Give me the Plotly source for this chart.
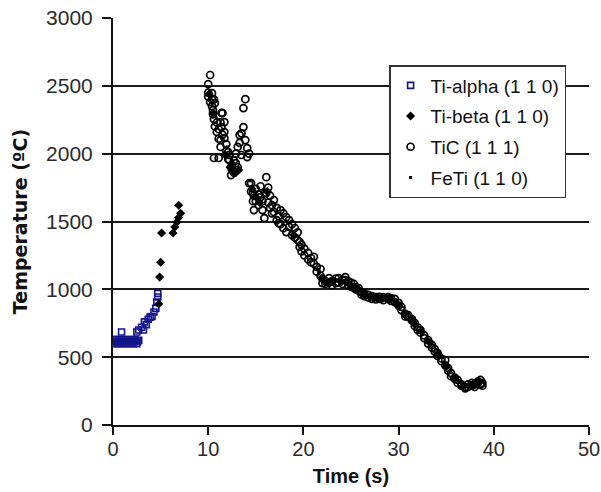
import plotly.graph_objects as go

# ---- data ----
alpha_t = [0.0, 0.2, 0.4, 0.6, 0.8, 1.0, 1.2, 1.4, 1.6, 1.8, 2.0, 2.2, 2.4, 2.6,
           0.1, 0.5, 0.9, 1.3, 1.7, 2.1, 2.5,
           0.0, 0.3, 0.7, 1.1, 1.5, 1.9, 2.3, 2.7, 0.9,
           2.5, 2.7, 3.0, 3.2, 3.3, 3.5, 3.7, 3.9, 4.1, 4.3, 4.5, 4.6, 4.7, 4.7]
alpha_T = [615, 615, 615, 615, 615, 615, 615, 615, 615, 615, 615, 615, 615, 615,
           600, 600, 600, 600, 600, 600, 600,
           630, 630, 630, 630, 630, 630, 630, 625, 685,
           685, 700, 720, 700, 760, 740, 780, 795, 800, 833, 860, 906, 943, 970]

beta_t = [4.8, 4.9, 5.0, 5.1, 6.3, 6.5, 6.7, 6.9, 7.1, 6.9,
          10.1, 10.5, 11.8, 12.3, 12.6, 12.9, 13.2, 14.6, 15.0, 15.4,
          16.2, 19.0, 21.9, 22.5, 23.2, 24.0, 24.8, 25.6, 26.5, 27.4,
          28.3, 29.0, 29.8, 30.6, 31.5, 32.4, 33.3, 34.2, 35.0, 35.8,
          36.8, 37.8, 38.5]
beta_T = [892, 1090, 1200, 1415, 1415, 1460, 1495, 1530, 1560, 1620,
          2440, 2300, 1990, 1900, 1870, 1860, 1880, 1740, 1680, 1640,
          1720, 1400, 1080, 1050, 1065, 1055, 1040, 1000, 960, 940,
          935, 930, 890, 820, 760, 690, 610, 520, 430, 350,
          290, 300, 320]

tic_t = [10.0, 10.0, 10.0, 10.2, 10.2, 10.4, 10.4, 10.4, 10.5, 10.5,
         10.6, 10.6, 10.6, 10.7, 10.7, 10.9, 10.9, 11.1, 11.1, 11.1,
         11.3, 11.3, 11.3, 11.4, 11.4, 11.5, 11.5, 11.7, 11.7, 11.7,
         11.9, 11.9, 12.1, 12.1, 12.2, 12.2, 12.4, 12.4, 12.5, 12.5,
         12.7, 12.7, 12.9, 12.9, 13.1, 13.1, 13.3, 13.3, 13.5, 13.5,
         13.7, 13.7, 13.9, 13.9, 14.1, 14.1, 14.3, 14.3, 14.5, 14.5,
         14.7, 14.7, 14.8, 14.8, 15.0, 15.0, 15.3, 15.3, 15.5, 15.5,
         15.7, 15.7, 15.9, 15.9, 16.1, 16.1, 16.3, 16.3, 16.5, 16.5,
         16.7, 16.7, 16.9, 16.9, 17.2, 17.2, 17.4, 17.4, 17.6, 17.6,
         17.9, 17.9, 18.2, 18.2, 18.5, 18.5, 18.8, 18.8, 19.1, 19.1,
         19.4, 19.4, 19.6, 19.6, 19.8, 19.8, 20.1, 20.1, 20.5, 20.5,
         20.8, 20.8, 21.1, 21.1, 21.4, 21.4, 21.8, 21.8, 22.0, 22.0,
         22.3, 22.3, 22.7, 22.7, 23.0, 23.0, 23.4, 23.4, 23.7, 23.7,
         24.1, 24.1, 24.4, 24.4, 24.7, 24.7, 25.0, 25.0, 25.3, 25.3,
         25.5, 25.5, 25.8, 25.8, 26.1, 26.1, 26.4, 26.4, 26.8, 26.8,
         27.2, 27.2, 27.6, 27.6, 28.0, 28.0, 28.4, 28.4, 28.9, 28.9,
         29.2, 29.2, 29.6, 29.6, 30.0, 30.0, 30.3, 30.3, 30.7, 30.7,
         31.0, 31.0, 31.4, 31.4, 31.7, 31.7, 32.0, 32.0, 32.3, 32.3,
         32.7, 32.7, 33.1, 33.1, 33.5, 33.5, 33.8, 33.8, 34.1, 34.1,
         34.5, 34.5, 34.9, 34.9, 35.2, 35.2, 35.5, 35.5, 35.9, 35.9,
         36.2, 36.2, 36.6, 36.6, 37.0, 37.0, 37.3, 37.3, 37.7, 37.7,
         38.0, 38.0, 38.3, 38.3, 38.6, 38.6, 38.8, 38.8]
tic_T = [2450, 2420, 2513, 2580, 2380, 2446, 2350, 2400, 2321, 2290,
         1968, 2255, 2400, 2373, 2200, 2230, 2160, 1968, 2180, 2110,
         2100, 2230, 2050, 2196, 2300, 2299, 2140, 2233, 2159, 2115,
         2020, 2070, 2012, 1960, 1953, 1990, 1842, 1901, 1916, 1880,
         1950, 1860, 2000, 1930, 2050, 1900, 2137, 2080, 1990, 2150,
         2336, 2196, 2402, 2100, 2041, 1975, 1783, 2000, 1720, 1783,
         1650, 1709, 1584, 1690, 1650, 1740, 1700, 1620, 1760, 1680,
         1584, 1650, 1525, 1710, 1709, 1827, 1750, 1640, 1690, 1600,
         1620, 1560, 1658, 1570, 1510, 1600, 1488, 1540, 1584, 1480,
         1560, 1450, 1532, 1422, 1510, 1460, 1480, 1400, 1452, 1380,
         1363, 1420, 1312, 1350, 1330, 1280, 1300, 1250, 1268, 1220,
         1231, 1200, 1190, 1240, 1165, 1130, 1100, 1150, 1046, 1080,
         1040, 1060, 1083, 1050, 1060, 1030, 1080, 1045, 1083, 1050,
         1070, 1040, 1068, 1090, 1060, 1030, 1050, 1020, 1040, 1010,
         1017, 1000, 990, 1010, 980, 960, 950, 970, 940, 960,
         950, 930, 943, 925, 945, 930, 940, 920, 943, 930,
         935, 915, 906, 930, 880, 900, 847, 870, 820, 800,
         796, 810, 770, 780, 752, 730, 700, 720, 700, 680,
         660, 640, 626, 600, 590, 570, 560, 540, 530, 510,
         490, 470, 479, 440, 420, 400, 383, 360, 340, 350,
         332, 310, 300, 290, 280, 270, 280, 300, 290, 310,
         300, 280, 310, 320, 332, 300, 310, 290]

feti_t = [12.0, 12.8, 14.4, 21.6, 23.5, 27.8, 33.0, 36.4]
feti_T = [2050, 1850, 1800, 1120, 1070, 940, 630, 320]

fig = go.Figure()
fig.add_trace(go.Scatter(x=alpha_t, y=alpha_T, mode="markers", name="Ti-alpha (1 1 0)",
                         legendgroup="a",
                         marker=dict(symbol="square-open", size=6, color="#14148c",
                                     line=dict(width=1.6, color="#14148c"))))
fig.add_trace(go.Scatter(x=beta_t, y=beta_T, mode="markers", name="Ti-beta (1 1 0)",
                         legendgroup="b",
                         marker=dict(symbol="diamond", size=7, color="black")))
fig.add_trace(go.Scatter(x=tic_t, y=tic_T, mode="markers", name="TiC (1 1 1)",
                         legendgroup="c",
                         marker=dict(symbol="circle-open", size=7, color="black",
                                     line=dict(width=1.7, color="black"))))
fig.add_trace(go.Scatter(x=feti_t, y=feti_T, mode="markers", name="FeTi (1 1 0)",
                         legendgroup="d",
                         marker=dict(symbol="square", size=3, color="black")))

fig.update_layout(
    width=601, height=492,
    margin=dict(l=113, r=12, t=18, b=67),
    paper_bgcolor="white", plot_bgcolor="white",
    font=dict(family="Liberation Sans, Arial, sans-serif", size=21, color="#222"),
    showlegend=True,
    legend=dict(x=0.58, y=0.8845, xanchor="left", yanchor="top",
                bordercolor="#333", borderwidth=1.5, bgcolor="white",
                font=dict(size=19, color="#111"),
                traceorder="grouped", tracegroupgap=3, itemwidth=30),
    xaxis=dict(range=[0, 50], tickvals=[0, 10, 20, 30, 40, 50],
               automargin=False, ticklabeloverflow="allow",
               showline=True, linecolor="#111", linewidth=2,
               ticks="outside", ticklen=8, tickwidth=1.5, tickcolor="#111",
               tickfont=dict(size=20, color="#2a2a2a"),
               ticklabelstandoff=-3,
               showgrid=False, zeroline=False,
               title=dict(text="<b>Time (s)</b>", font=dict(size=20, color="#111"), standoff=10)),
    yaxis=dict(range=[0, 3000], tickvals=[0, 500, 1000, 1500, 2000, 2500, 3000],
               automargin=False, ticklabeloverflow="allow",
               showline=True, linecolor="#111", linewidth=2,
               ticks="outside", ticklen=9, tickwidth=1.5, tickcolor="#111",
               tickfont=dict(size=21, color="#2a2a2a"),
               ticklabelstandoff=5,
               showgrid=True, gridcolor="#1a1a1a", gridwidth=1.8, zeroline=False,
               title=dict(text="<b>Temperature (ºC)</b>",
                          font=dict(family="DejaVu Sans, sans-serif", size=19, color="#111"),
                          standoff=13)),
)

fig.write_html("out.html", config={"displayModeBar": False},
               post_script="document.body.style.margin='0';")
